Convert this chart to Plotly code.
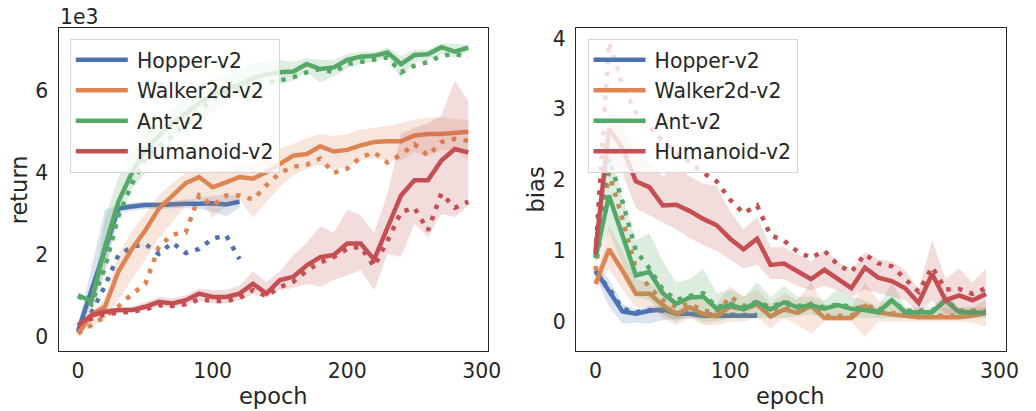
import plotly.graph_objects as go

# ---------------- data ----------------
epochs = [0, 10, 20, 30, 40, 50, 60, 70, 80, 90, 100, 110, 120, 130, 140,
          150, 160, 170, 180, 190, 200, 210, 220, 230, 240, 250, 260, 270, 280, 290]
hopper_epochs = [0, 10, 20, 30, 40, 50, 60, 70, 80, 90, 100, 110, 120]

envs = ["Hopper-v2", "Walker2d-v2", "Ant-v2", "Humanoid-v2"]
colors = ["#4C72B0", "#DD8452", "#55A868", "#C44E52"]
fills = ["rgba(76,114,176,0.2)", "rgba(221,132,82,0.2)", "rgba(85,168,104,0.2)", "rgba(196,78,82,0.2)"]

# return (x1e3)
hopper_ret = [0.15, 1.15, 2.2, 3.13, 3.18, 3.22, 3.22, 3.24, 3.25, 3.25, 3.26, 3.23, 3.30]
hopper_ret_hi = [0.3, 1.7, 3.1, 3.22, 3.28, 3.3, 3.3, 3.32, 3.35, 3.38, 3.45, 3.45, 3.45]
hopper_ret_lo = [0.05, 0.7, 1.6, 3.02, 3.08, 3.12, 3.12, 3.14, 3.14, 3.12, 3.05, 2.95, 3.15]
hopper_ret_dot = [0.1, 0.6, 1.25, 2.0, 2.2, 2.27, 2.03, 2.3, 2.05, 2.15, 2.4, 2.48, 1.9]

walker_ret = [0.09, 0.55, 0.74, 1.6, 2.15, 2.6, 3.13, 3.45, 3.75, 3.9, 3.65, 3.77, 3.9, 3.86, 4.02,
              4.22, 4.42, 4.46, 4.65, 4.52, 4.56, 4.67, 4.75, 4.77, 4.77, 4.91, 4.95, 4.95, 4.97, 5.0]
walker_ret_hi = [0.12, 0.6, 0.95, 2.0, 2.6, 3.0, 3.45, 3.75, 4.0, 4.15, 4.05, 4.15, 4.2, 4.2, 4.35,
                 4.6, 4.7, 4.85, 4.95, 4.9, 4.95, 5.05, 5.1, 5.15, 5.2, 5.3, 5.35, 5.35, 5.3, 5.3]
walker_ret_lo = [0.05, 0.25, 0.45, 0.9, 1.4, 1.9, 2.4, 2.8, 3.2, 3.4, 2.9, 3.2, 3.35, 2.9, 3.3,
                 3.65, 3.95, 4.1, 4.2, 4.05, 4.15, 4.3, 4.35, 4.3, 4.3, 4.5, 4.4, 4.55, 4.55, 4.3]
walker_ret_dot = [0.09, 0.3, 0.5, 0.75, 1.05, 1.3, 2.2, 2.5, 2.55, 3.45, 3.2, 3.45, 3.45, 3.35, 3.7,
                  4.0, 4.15, 4.2, 4.35, 4.0, 4.1, 4.38, 4.5, 4.25, 4.45, 4.7, 4.42, 4.75, 4.83, 4.78]

ant_ret = [1.02, 0.88, 2.2, 3.3, 4.0, 4.55, 4.9, 5.2, 5.45, 5.7, 5.9, 6.05, 6.15, 6.3, 6.4,
           6.45, 6.47, 6.65, 6.53, 6.57, 6.75, 6.83, 6.85, 6.93, 6.65, 6.87, 6.89, 7.06, 6.95, 7.05]
ant_ret_hi = [1.05, 0.95, 2.9, 3.9, 4.6, 5.0, 5.3, 5.55, 5.8, 6.1, 6.3, 6.4, 6.5, 6.7, 6.75,
              6.75, 6.7, 6.8, 6.75, 6.75, 6.9, 6.95, 6.95, 7.05, 6.85, 7.0, 7.0, 7.15, 7.15, 7.1]
ant_ret_lo = [0.95, 0.8, 1.6, 2.9, 3.6, 4.0, 4.4, 4.75, 5.05, 5.3, 5.5, 5.7, 5.85, 6.05, 6.1,
              6.15, 6.25, 6.45, 6.2, 6.35, 6.55, 6.65, 6.7, 6.8, 6.3, 6.7, 6.75, 6.9, 6.8, 6.95]
ant_ret_dot = [1.0, 0.8, 1.7, 2.95, 3.73, 4.35, 4.65, 4.9, 5.2, 5.5, 5.8, 5.95, 6.05, 6.15, 6.2,
               6.25, 6.33, 6.45, 6.53, 6.45, 6.65, 6.7, 6.77, 6.81, 6.45, 6.61, 6.7, 6.85, 6.9, 6.8]

humanoid_ret = [0.29, 0.53, 0.62, 0.66, 0.66, 0.74, 0.86, 0.82, 0.9, 1.06, 0.98, 0.98, 1.06, 1.3, 1.06,
                1.39, 1.47, 1.75, 1.95, 2.0, 2.28, 2.28, 1.89, 2.7, 3.45, 3.82, 3.82, 4.3, 4.58, 4.5]
humanoid_ret_hi = [0.32, 0.6, 0.7, 0.72, 0.75, 0.85, 0.98, 0.95, 1.02, 1.18, 1.15, 1.15, 1.25, 1.6, 1.35,
                   1.6, 2.0, 2.3, 2.7, 2.55, 3.1, 2.97, 2.55, 3.5, 4.95, 5.1, 5.2, 5.4, 6.25, 5.76]
humanoid_ret_lo = [0.25, 0.45, 0.55, 0.58, 0.6, 0.65, 0.75, 0.72, 0.78, 0.9, 0.82, 0.82, 0.9, 1.05, 0.95,
                   1.15, 1.2, 1.3, 1.22, 1.4, 1.5, 1.63, 1.15, 2.03, 1.95, 2.76, 2.44, 3.0, 2.92, 3.2]
humanoid_ret_dot = [0.29, 0.45, 0.55, 0.6, 0.62, 0.68, 0.78, 0.76, 0.8, 0.92, 0.88, 0.88, 0.95, 1.15, 1.0,
                    1.22, 1.35, 1.62, 1.82, 1.95, 2.15, 2.2, 1.72, 2.35, 3.05, 3.15, 2.6, 3.5, 3.15, 3.3]

# bias
hopper_bias = [0.72, 0.42, 0.14, 0.11, 0.15, 0.17, 0.11, 0.11, 0.08, 0.08, 0.08, 0.08, 0.08]
hopper_bias_hi = [0.78, 0.6, 0.25, 0.17, 0.22, 0.22, 0.16, 0.15, 0.13, 0.13, 0.12, 0.12, 0.11]
hopper_bias_lo = [0.62, 0.22, -0.03, -0.02, -0.03, 0.02, 0.03, 0.04, 0.04, 0.04, 0.05, 0.05, 0.05]
hopper_bias_dot = [0.7, 0.47, 0.18, 0.13, 0.16, 0.15, 0.12, 0.12, 0.1, 0.1, 0.09, 0.09, 0.09]

walker_bias = [0.53, 1.02, 0.72, 0.39, 0.39, 0.23, 0.1, 0.2, 0.1, 0.07, 0.21, 0.17, 0.24, 0.07, 0.17,
               0.12, 0.22, 0.05, 0.05, 0.05, 0.22, 0.13, 0.1, 0.08, 0.06, 0.06, 0.06, 0.06, 0.08, 0.12]
walker_bias_hi = [0.6, 1.35, 1.0, 0.6, 0.55, 0.4, 0.3, 0.35, 0.3, 0.25, 0.5, 0.35, 0.45, 0.25, 0.4,
                  0.3, 0.55, 0.25, 0.2, 0.2, 0.55, 0.3, 0.25, 0.2, 0.15, 0.15, 0.2, 0.15, 0.2, 0.3]
walker_bias_lo = [0.45, 0.75, 0.45, 0.2, 0.2, 0.05, -0.05, 0.05, -0.05, -0.05, 0.0, 0.0, 0.05, -0.1, 0.05,
                  -0.05, -0.17, 0.0, 0.0, 0.0, -0.22, 0.0, 0.0, 0.0, 0.0, 0.0, 0.0, 0.0, -0.02, -0.08]
walker_bias_dot = [0.72, 2.1, 1.45, 0.75, 0.48, 0.3, 0.2, 0.25, 0.15, 0.12, 0.35, 0.22, 0.25, 0.12, 0.2,
                   0.15, 0.25, 0.08, 0.08, 0.08, 0.25, 0.15, 0.12, 0.1, 0.08, 0.08, 0.08, 0.08, 0.1, 0.13]

ant_bias = [0.9, 1.78, 1.22, 0.65, 0.7, 0.4, 0.25, 0.34, 0.35, 0.18, 0.23, 0.18, 0.27, 0.17, 0.27,
            0.2, 0.23, 0.18, 0.23, 0.18, 0.16, 0.13, 0.3, 0.13, 0.13, 0.13, 0.3, 0.13, 0.13, 0.12]
ant_bias_hi = [1.0, 2.45, 1.75, 1.15, 1.25, 0.85, 0.55, 0.6, 0.75, 0.4, 0.45, 0.35, 0.55, 0.35, 0.5,
               0.35, 0.35, 0.3, 0.45, 0.35, 0.3, 0.2, 0.55, 0.2, 0.2, 0.2, 0.4, 0.2, 0.2, 0.2]
ant_bias_lo = [0.8, 1.3, 0.8, 0.35, 0.3, 0.1, 0.0, 0.1, -0.02, 0.0, 0.05, 0.05, 0.05, 0.05, 0.05,
               0.08, 0.1, 0.05, 0.05, 0.05, 0.05, 0.05, 0.05, 0.05, 0.05, 0.05, 0.1, 0.05, 0.05, 0.05]
ant_bias_dot = [0.9, 2.3, 1.7, 1.0, 0.75, 0.45, 0.3, 0.36, 0.4, 0.2, 0.25, 0.2, 0.28, 0.2, 0.28,
                0.22, 0.24, 0.2, 0.24, 0.2, 0.17, 0.15, 0.3, 0.15, 0.15, 0.15, 0.3, 0.15, 0.15, 0.14]

humanoid_bias = [1.0, 2.72, 2.45, 1.98, 1.9, 1.64, 1.65, 1.56, 1.45, 1.36, 1.17, 1.02, 1.17, 0.8, 0.82,
                 0.71, 0.6, 0.73, 0.6, 0.47, 0.76, 0.62, 0.57, 0.47, 0.26, 0.67, 0.3, 0.37, 0.3, 0.39]
humanoid_bias_hi = [1.1, 3.0, 2.8, 2.4, 2.25, 2.05, 2.2, 2.05, 1.95, 1.92, 1.55, 1.3, 1.48, 1.05, 1.05,
                    0.95, 0.85, 1.0, 0.85, 0.72, 0.98, 0.88, 0.85, 0.72, 0.45, 1.15, 0.6, 0.75, 0.55, 0.75]
humanoid_bias_lo = [0.85, 2.3, 2.1, 1.6, 1.5, 1.4, 1.3, 1.18, 1.08, 1.0, 0.88, 0.75, 0.8, 0.6, 0.6,
                    0.5, 0.44, 0.5, 0.44, 0.35, 0.45, 0.4, 0.35, 0.3, 0.12, 0.3, 0.1, 0.12, 0.1, 0.1]
humanoid_bias_dot = [0.95, 3.95, 3.35, 2.95, 2.75, 2.55, 2.4, 2.25, 2.1, 1.98, 1.72, 1.53, 1.64, 1.22, 1.14,
                     0.99, 0.9, 1.0, 0.8, 0.7, 0.95, 0.82, 0.78, 0.6, 0.42, 0.77, 0.45, 0.46, 0.39, 0.47]

ret_series = [
    (hopper_epochs, hopper_ret, hopper_ret_lo, hopper_ret_hi, hopper_ret_dot),
    (epochs, walker_ret, walker_ret_lo, walker_ret_hi, walker_ret_dot),
    (epochs, ant_ret, ant_ret_lo, ant_ret_hi, ant_ret_dot),
    (epochs, humanoid_ret, humanoid_ret_lo, humanoid_ret_hi, humanoid_ret_dot),
]
bias_series = [
    (hopper_epochs, hopper_bias, hopper_bias_lo, hopper_bias_hi, hopper_bias_dot),
    (epochs, walker_bias, walker_bias_lo, walker_bias_hi, walker_bias_dot),
    (epochs, ant_bias, ant_bias_lo, ant_bias_hi, ant_bias_dot),
    (epochs, humanoid_bias, humanoid_bias_lo, humanoid_bias_hi, humanoid_bias_dot),
]

# ---------------- figure ----------------
FONT = "DejaVu Sans"
TXT = "#262626"
FS = 20.4
FS_LABEL = 22.5
LW = 4.5
DOT = "4.5px,7.4px"

fig = go.Figure()


def add_panel(series, xa, ya, legend_name):
    for i, (x, m, lo, hi, dot) in enumerate(series):
        fig.add_trace(go.Scatter(
            x=list(x) + list(x)[::-1], y=list(hi) + list(lo)[::-1],
            fill="toself", fillcolor=fills[i], line=dict(width=0, color=fills[i]),
            mode="lines", hoverinfo="skip", showlegend=False, xaxis=xa, yaxis=ya))
        fig.add_trace(go.Scatter(
            x=x, y=m, mode="lines", name="\u2009" + envs[i],
            line=dict(color=colors[i], width=LW),
            legend=legend_name, legendgroup=legend_name + envs[i], showlegend=True,
            xaxis=xa, yaxis=ya))
        fig.add_trace(go.Scatter(
            x=x, y=dot, mode="lines", name=envs[i] + " (dotted)",
            line=dict(color=colors[i], width=LW, dash=DOT),
            showlegend=False, xaxis=xa, yaxis=ya))


add_panel(ret_series, "x", "y", "legend")
add_panel(bias_series, "x2", "y2", "legend2")

W, H = 1036, 411
axis_common = dict(showgrid=False, zeroline=False, showline=True, mirror=True,
                   linecolor=TXT, linewidth=1.25, ticks="outside", tickcolor="rgba(0,0,0,0)",
                   tickfont=dict(family=FONT, size=FS, color=TXT))
xaxis_common = dict(ticklen=1, **axis_common)
yaxis_common = dict(ticklen=5, **axis_common)

ydom = [60 / H, 384 / H]
leg_common = dict(xanchor="left", yanchor="top", bgcolor="rgba(255,255,255,0.8)",
                  bordercolor="#d6d6d6", borderwidth=1, traceorder="grouped",
                  tracegroupgap=1, itemwidth=52,
                  font=dict(family=FONT, size=FS, color=TXT))

fig.update_layout(
    width=W, height=H,
    margin=dict(l=0, r=0, t=0, b=0),
    paper_bgcolor="white", plot_bgcolor="white",
    font=dict(family=FONT, size=FS, color=TXT),
    xaxis=dict(domain=[59.3 / W, 494 / W], range=[-14.5, 304.5], tickvals=[0, 100, 200, 300],
               anchor="y", **xaxis_common),
    yaxis=dict(domain=ydom, range=[-0.34, 7.53], tickvals=[0, 2, 4, 6], anchor="x", **yaxis_common),
    xaxis2=dict(domain=[583.3 / W, 1018.3 / W], range=[-14.5, 304.5], tickvals=[0, 100, 200, 300],
                anchor="y2", **xaxis_common),
    yaxis2=dict(domain=ydom, range=[-0.42, 4.15], tickvals=[0, 1, 2, 3, 4], anchor="x2", **yaxis_common),
    legend=dict(x=70.7 / W, y=1 - 38 / H, **leg_common),
    legend2=dict(x=595 / W, y=1 - 38 / H, **leg_common),
    showlegend=True,
)

ann = dict(showarrow=False, xref="paper", yref="paper")
tfont = dict(family=FONT, size=FS, color=TXT)
lfont = dict(family=FONT, size=FS_LABEL, color=TXT)
fig.add_annotation(text="1e3", x=59 / W, y=1 - 16.5 / H, xanchor="left", yanchor="middle", font=tfont, **ann)
fig.add_annotation(text="return", x=19 / W, y=1 - 189 / H, xanchor="center", yanchor="middle",
                   textangle=-90, font=lfont, **ann)
fig.add_annotation(text="bias", x=542.7 / W, y=1 - 189 / H, xanchor="center", yanchor="middle",
                   textangle=-90, font=lfont, **ann)
fig.add_annotation(text="epoch", x=276.7 / W, y=1 - 396 / H, xanchor="center", yanchor="middle",
                   font=lfont, **ann)
fig.add_annotation(text="epoch", x=800.8 / W, y=1 - 396 / H, xanchor="center", yanchor="middle",
                   font=lfont, **ann)

fig.write_html("out.html")
